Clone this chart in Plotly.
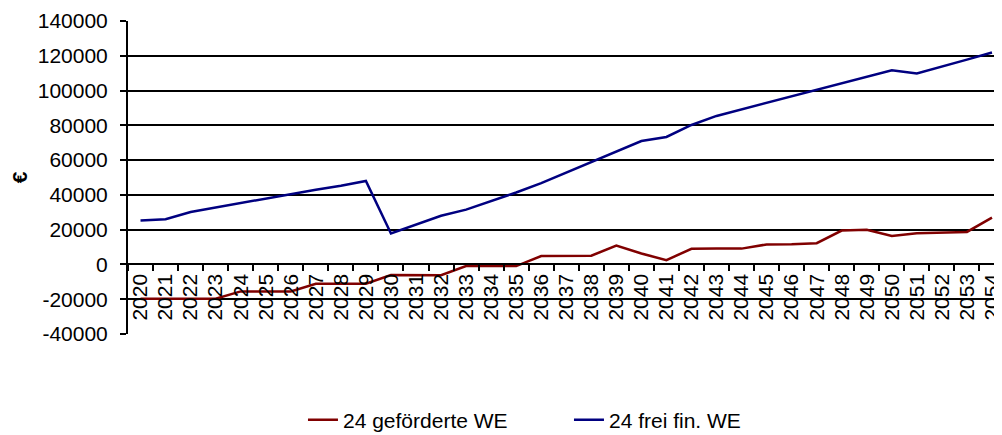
import plotly.graph_objects as go

years = [str(y) for y in range(2020, 2055)]

gefoerderte = [-19700, -19700, -19700, -19700, -15500, -15500, -15500, -11100, -11100, -11100,
               -6100, -6100, -6200, -950, -950, -950, 4800, 4800, 5000, 10900,
               6300, 2500, 9000, 9100, 9100, 11500, 11600, 12200, 19500, 19900,
               16400, 17900, 18300, 18700, 26900]

frei_fin = [25300, 26000, 30200, 32800, 35300, 37800, 40500, 43000, 45300, 48000,
            17800, 23000, 28000, 31500, 36300, 41400, 46800, 52900, 59200, 65300,
            71000, 73300, 80200, 85400, 89200, 92600, 96400, 100300, 104100, 107900,
            111700, 109800, 113600, 117800, 121900]

y_ticks = list(range(-40000, 140001, 20000))

FONT = "Liberation Sans, Arial, sans-serif"

fig = go.Figure()
fig.add_trace(go.Scatter(x=years, y=gefoerderte, mode="lines", name="24 geförderte WE",
                         line=dict(color="#800000", width=2.5)))
fig.add_trace(go.Scatter(x=years, y=frei_fin, mode="lines", name="24 frei fin. WE",
                         line=dict(color="#000080", width=2.5)))

# the page body has an 8px margin, so the figure is sized to fit the window
fig.update_layout(
    width=994, height=427,
    margin=dict(l=120, r=0, t=13, b=101, autoexpand=False),
    paper_bgcolor="white", plot_bgcolor="white",
    font=dict(family=FONT, size=21, color="black"),
    showlegend=True,
    legend=dict(orientation="h", x=0.2002, xanchor="left", y=-0.275, yanchor="middle",
                font=dict(size=21), entrywidth=221, entrywidthmode="pixels",
                bgcolor="rgba(0,0,0,0)"),
    xaxis=dict(type="category", categoryorder="array", categoryarray=years,
               range=[-0.5, 34.4], anchor="free", position=40000 / 180000,
               automargin=False,
               showline=True, linecolor="black", linewidth=2,
               ticks="outside", ticklen=6, tickwidth=2, tickcolor="black",
               tickson="boundaries", tickangle=-90, showgrid=False,
               tickfont=dict(size=21)),
    yaxis=dict(range=[-40000, 140000], tickmode="array", tickvals=y_ticks,
               ticktext=[str(v) for v in y_ticks], automargin=False,
               showline=True, linecolor="black", linewidth=2,
               ticks="outside", ticklen=6, tickwidth=2, tickcolor="black",
               showgrid=True, gridcolor="black", gridwidth=2, zeroline=False,
               ticklabelstandoff=8, tickfont=dict(size=21),
               title=dict(text="<b>€</b>", font=dict(size=21), standoff=10)),
)

fig.write_html("out.html")
